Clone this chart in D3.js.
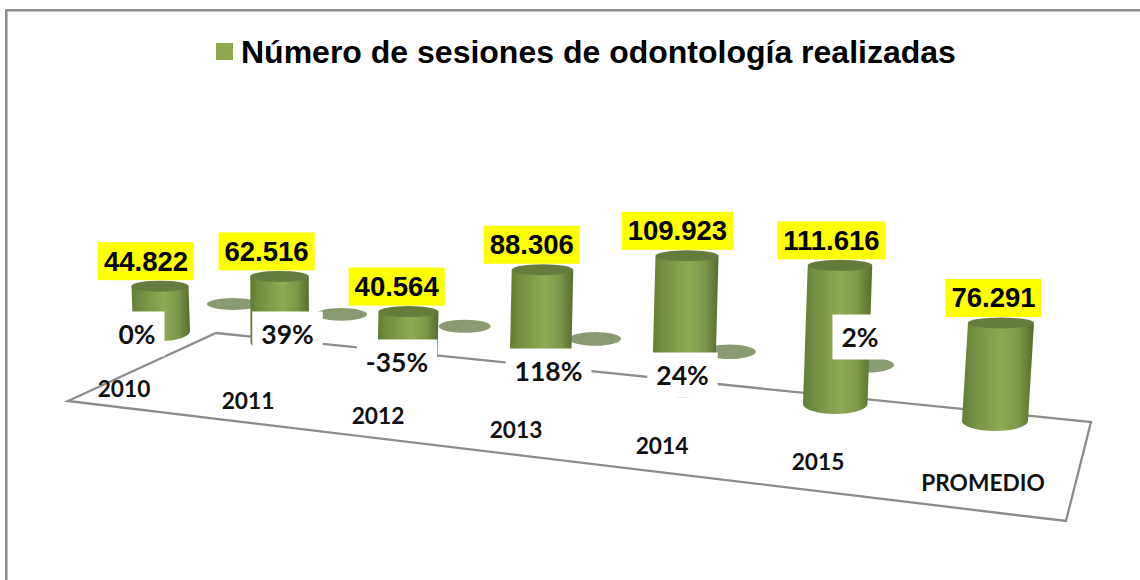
<!DOCTYPE html>
<html><head><meta charset="utf-8">
<script src="https://cdn.jsdelivr.net/npm/d3@7/dist/d3.min.js"></script>
<style>html,body{margin:0;padding:0;background:#fff}svg{display:block}</style>
</head><body><svg id="c" width="1140" height="580"></svg>
<script>
const categories = ["2010","2011","2012","2013","2014","2015","PROMEDIO"];
const sessions = [44822,62516,40564,88306,109923,111616,76291];
const sessionLabels = ["44.822","62.516","40.564","88.306","109.923","111.616","76.291"];
const growth = [0,39,-35,118,24,2];
const seriesName = "Número de sesiones de odontología realizadas";
// perspective slots of the category axis (source chart is a tilted 3-D plot)
const slotTopX = [160,279.5,408.5,542.5,687,840,1001];
const slotLabelX = [124,248,378,516,662,818,983];
const slotLabelY = [388.5,400.5,415.5,429.5,445.5,461.5,482.5];
// hand-placed call-out anchors of the growth labels (as in the source chart)
const growthAnchorX = [137,287.5,397,548.5,682.5,860];
const growthAnchorY = [334,334,362,371,375,337];

const W=1140,H=580;
const svg=d3.select("#c");
const idx=categories.map((_,i)=>i);
const n=categories.length-1;
const topX=d3.scaleLinear().domain(idx).range(slotTopX);
const catX=d3.scaleLinear().domain(idx).range(slotLabelX);
const catY=d3.scaleLinear().domain(idx).range(slotLabelY);
const lean=d3.scaleLinear().domain([0,n]).range([-1.5,6]);
const baseX=i=>topX(i)-lean(i);
const baseY=d3.scalePow().exponent(1.15).domain([0,n]).range([331,421]);
const perUnit=d3.scalePow().exponent(0.9).domain([0,n]).range([1.0,1.285]);
const radius=d3.scaleLinear().domain([0,n]).range([28.5,33]);
const labelShift=d3.scaleLinear().domain([0,n]).range([14,7.5]);
const shadowX=d3.scalePow().exponent(1.1).domain([0,n-1]).range([233,868]);
const shadowY=d3.scalePow().exponent(1.1).domain([0,n-1]).range([304,365]);
const shadowRy=d3.scaleLinear().domain([0,n-1]).range([6,7.5]);
const height=i=>sessions[i]/1000*perUnit(i);
const topY=i=>baseY(i)-height(i);

const defs=svg.append("defs");
const g=defs.append("linearGradient").attr("id","cyl");
[[0,"#617c35"],[0.12,"#6f8b3e"],[0.55,"#8fab54"],[0.8,"#7c9648"],[1,"#556d2c"]]
  .forEach(([o,c])=>g.append("stop").attr("offset",o).attr("stop-color",c));

// frame
svg.append("path").attr("d",`M6.3,${H}V10.3H${W}`).attr("fill","none").attr("stroke","#8c8c8c").attr("stroke-width",2.5);

// legend / title
svg.append("rect").attr("x",216).attr("y",43).attr("width",17).attr("height",17).attr("fill","#8fa84f");
svg.append("text").attr("x",241).attr("y",63).attr("font-family","'Liberation Sans',Arial,sans-serif")
  .attr("font-weight",700).attr("font-size",32).attr("fill","#000").text(seriesName);

// floor
const floor=[[216,333],[1091,422],[1066,521],[68,401]];
svg.append("path").attr("d",d3.line()(floor)+"Z").attr("fill","#fff").attr("stroke","#8c8c8c").attr("stroke-width",2.3);

// shadows
svg.append("g").selectAll("ellipse").data(idx.slice(0,n)).join("ellipse")
  .attr("cx",i=>shadowX(i)).attr("cy",i=>shadowY(i)).attr("rx",26).attr("ry",shadowRy).attr("fill","#8a9a72");

// cylinders
const cyl=svg.append("g").selectAll("g").data(idx).join("g");
const ryTop=5.5, ryBot=10;
cyl.append("path").attr("fill","url(#cyl)").attr("d",i=>{
  const r=radius(i),tx=topX(i),bx=baseX(i),ty=topY(i),by=baseY(i);
  return `M${tx-r},${ty}L${bx-r},${by}A${r},${ryBot} 0 0 0 ${bx+r},${by}L${tx+r},${ty}Z`;
});
cyl.append("ellipse").attr("cx",topX).attr("cy",topY).attr("rx",radius).attr("ry",ryTop).attr("fill","#667c3d");

// category labels
svg.append("g").selectAll("text").data(idx).join("text")
  .attr("x",catX).attr("y",catY).attr("text-anchor","middle").attr("dominant-baseline","central")
  .attr("font-family","Lato,sans-serif").attr("font-weight",700).attr("font-size",22.7).attr("fill","#111")
  .text(i=>categories[i]);

// growth call-outs
const gr=svg.append("g").selectAll("g").data(growth).join("g");
const grText=gr.append("text").attr("x",(d,i)=>growthAnchorX[i]).attr("y",(d,i)=>growthAnchorY[i])
  .attr("text-anchor","middle").attr("dominant-baseline","central")
  .attr("font-family","Lato,sans-serif").attr("font-weight",700).attr("font-size",26.5).attr("fill","#111")
  .text(d=>d+"%");
grText.each(function(){
  const t=this, w=t.getComputedTextLength();
  d3.select(t.parentNode).insert("rect","text")
    .attr("x",+t.getAttribute("x")-w/2-9).attr("y",+t.getAttribute("y")-22.5)
    .attr("width",w+18).attr("height",45).attr("fill","#fff");
});

// value labels
const vl=svg.append("g").selectAll("g").data(idx).join("g");
const vlText=vl.append("text").attr("x",i=>topX(i)-labelShift(i)).attr("y",i=>topY(i)-25)
  .attr("text-anchor","middle").attr("dominant-baseline","central")
  .attr("font-family","'Liberation Sans',Arial,sans-serif").attr("font-weight",700).attr("font-size",27.5).attr("fill","#000")
  .text(i=>sessionLabels[i]);
vlText.each(function(){
  const t=this, w=t.getComputedTextLength();
  d3.select(t.parentNode).insert("rect","text")
    .attr("x",+t.getAttribute("x")-w/2-6).attr("y",+t.getAttribute("y")-19)
    .attr("width",w+12).attr("height",38).attr("fill","#ffff00");
});
</script></body></html>
